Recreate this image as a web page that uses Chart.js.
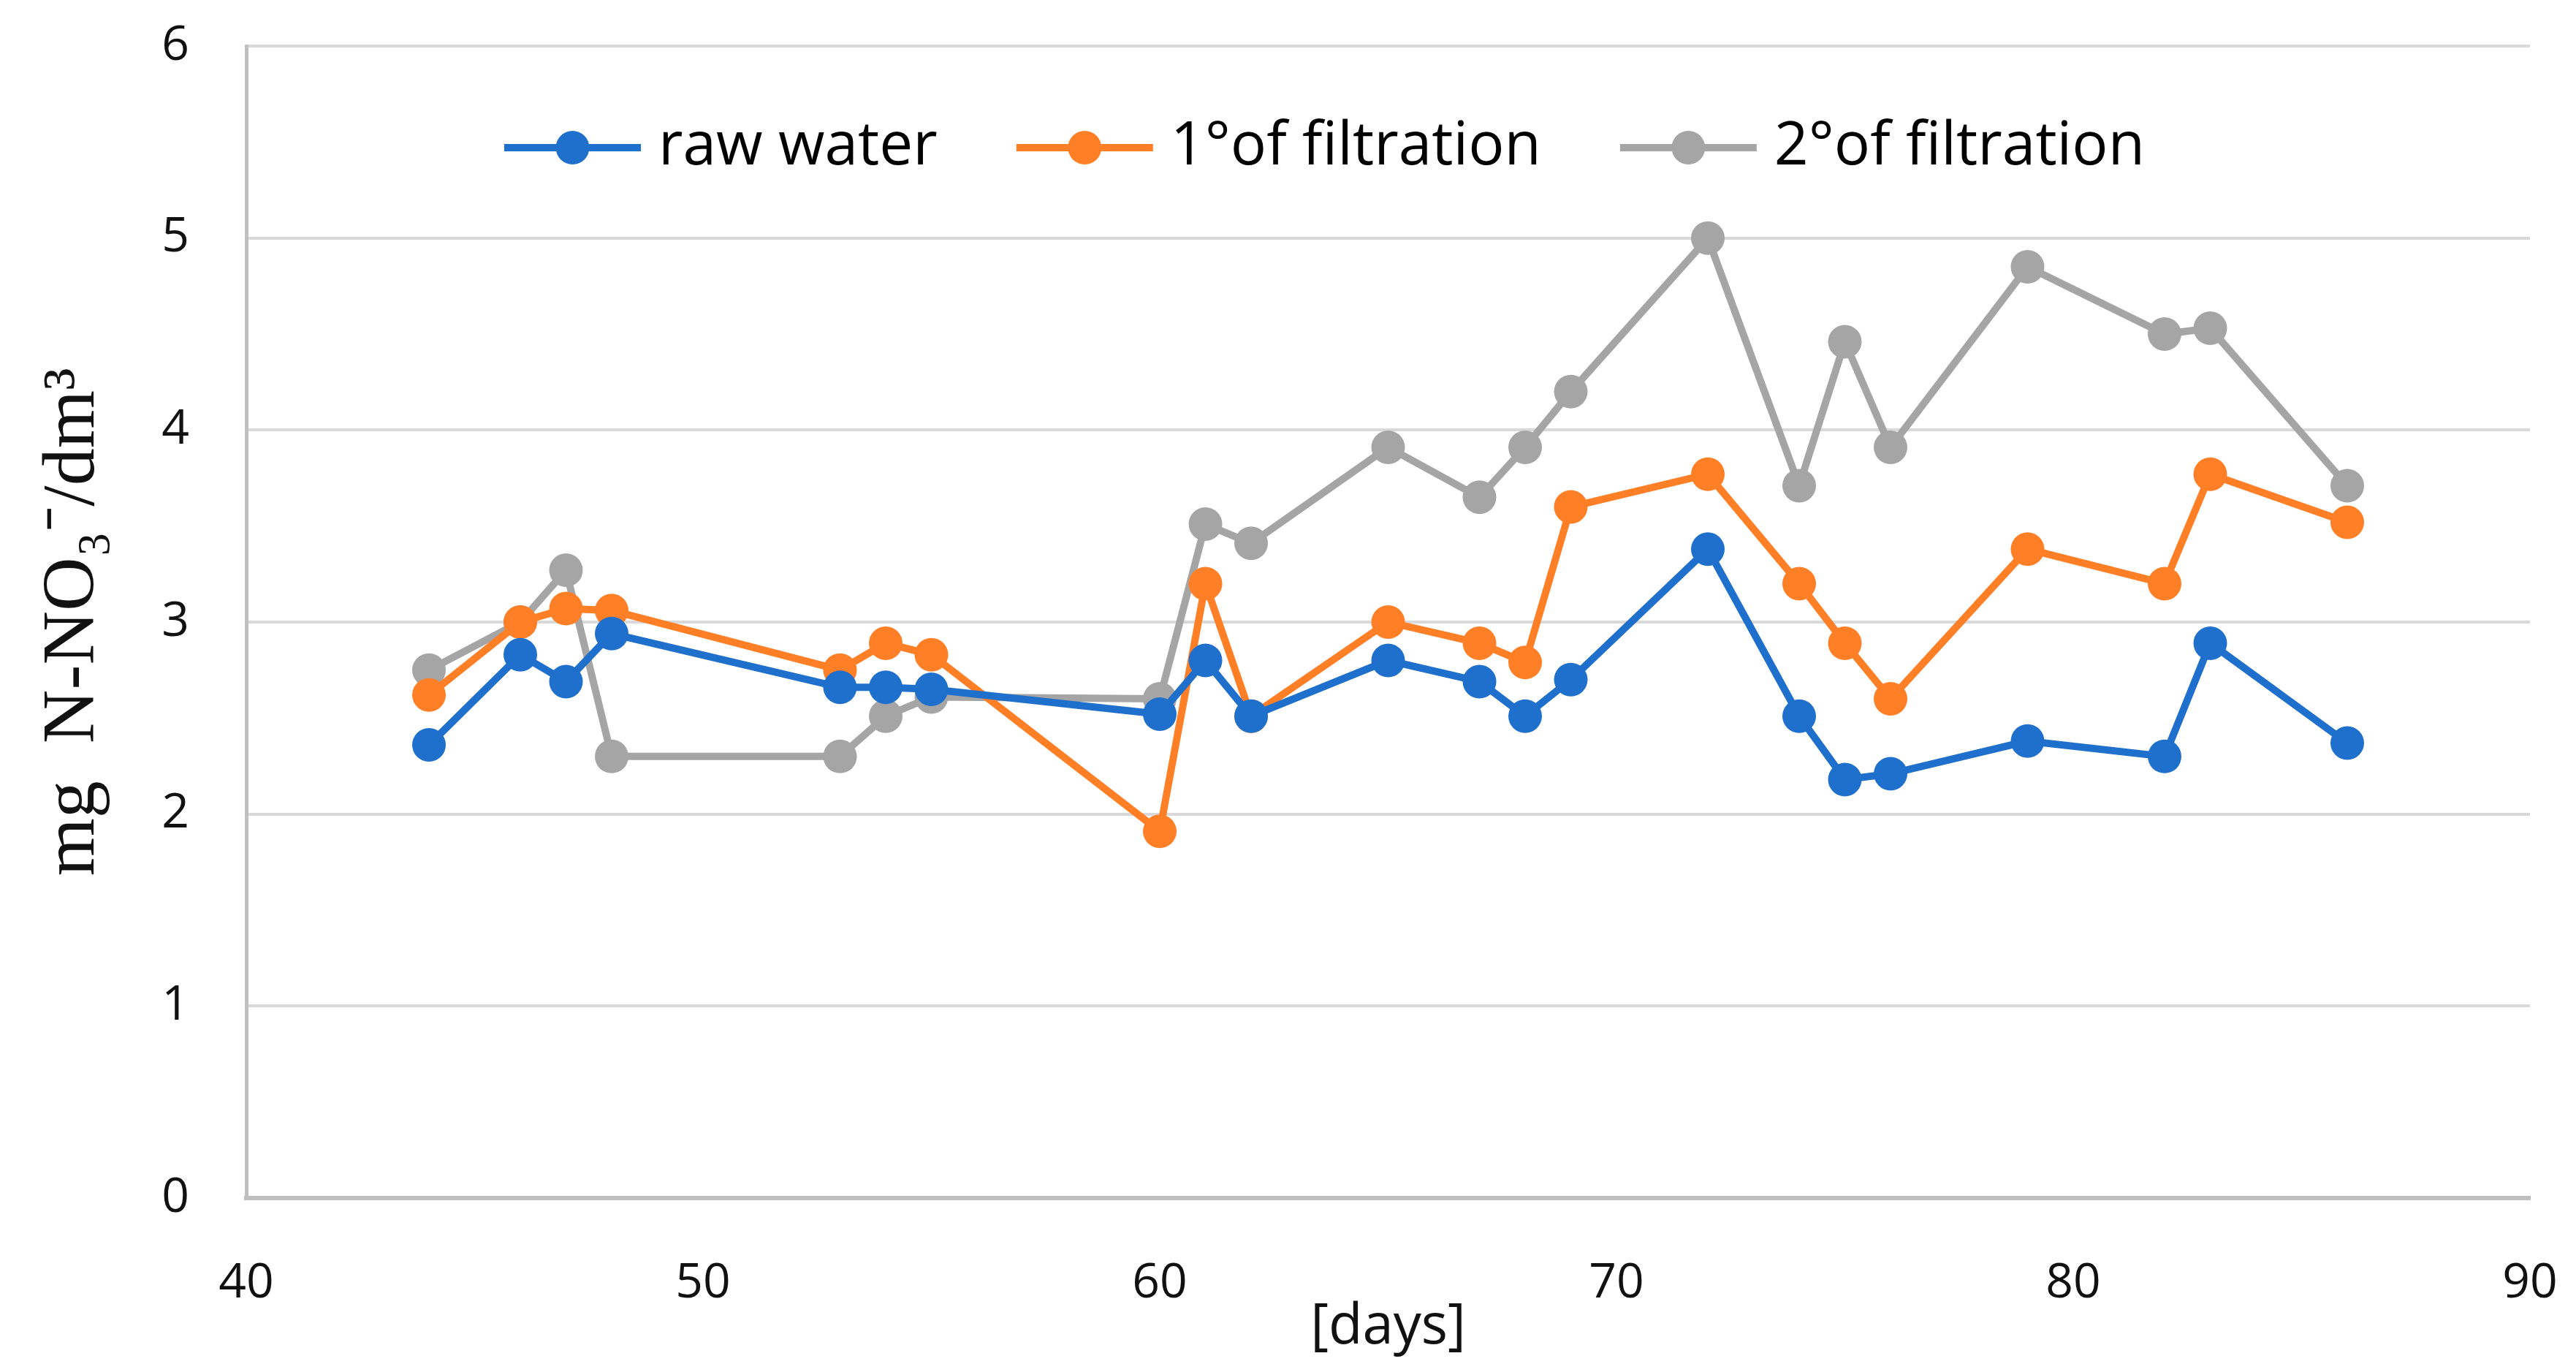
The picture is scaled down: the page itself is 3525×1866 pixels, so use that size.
<!DOCTYPE html>
<html>
<head>
<meta charset="utf-8">
<script src="https://cdn.jsdelivr.net/npm/chart.js@4.4.1/dist/chart.umd.min.js"></script>
<style>
  html, body { margin: 0; padding: 0; background: #fff; }
  #wrap { width: 3525px; height: 1866px; }
</style>
</head>
<body>
<div id="wrap"><canvas id="grafico" width="3525" height="1866"></canvas></div>
<script>
// dias de muestreo
const days = [44, 46, 47, 48, 53, 54, 55, 60, 61, 62, 65, 67, 68, 69, 72, 74, 75, 76, 79, 82, 83, 86];
// mg N-NO3/dm3
const rawWater = [2.36, 2.83, 2.69, 2.94, 2.66, 2.66, 2.65, 2.52, 2.80, 2.51, 2.80, 2.69, 2.51, 2.70, 3.38, 2.51, 2.18, 2.21, 2.38, 2.30, 2.89, 2.37];
const filtration1 = [2.62, 3.00, 3.07, 3.06, 2.75, 2.89, 2.83, 1.91, 3.20, 2.51, 3.00, 2.89, 2.79, 3.60, 3.77, 3.20, 2.89, 2.60, 3.38, 3.20, 3.77, 3.52];
const filtration2 = [2.75, 3.00, 3.27, 2.30, 2.30, 2.51, 2.61, 2.60, 3.51, 3.41, 3.91, 3.65, 3.91, 4.20, 5.00, 3.71, 4.46, 3.91, 4.85, 4.50, 4.53, 3.71];
const seriesNames = ['raw water', '1°of filtration', '2°of filtration'];
const xTicks = [40, 50, 60, 70, 80, 90];
const yTicks = [0, 1, 2, 3, 4, 5, 6];

const colores = ['#1f6fcc', '#ff7f27', '#a5a5a5'];
const fuente = 'Open Sans';

function serie(label, values, color) {
    return {
        label: label,
        data: days.map((d, i) => ({ x: d, y: values[i] })),
        borderColor: color,
        backgroundColor: color,
        borderWidth: 10,
        pointRadius: 23,
        pointHoverRadius: 23,
        pointBorderWidth: 0,
        pointStyle: 'circle',
        tension: 0
    };
}

// leyenda dentro del area del grafico, en una fila
const leyendaInterna = {
    id: 'leyendaInterna',
    afterDraw(chart) {
        const g = chart.ctx;
        const lineW = 187, gap = 24, sep = 108, y = 202;
        g.save();
        g.font = '82px "' + fuente + '"';
        g.textBaseline = 'middle';
        let x = 690;
        chart.data.datasets.forEach(ds => {
            g.strokeStyle = ds.borderColor;
            g.fillStyle = ds.borderColor;
            g.lineWidth = 10;
            g.beginPath(); g.moveTo(x, y); g.lineTo(x + lineW, y); g.stroke();
            g.beginPath(); g.arc(x + lineW / 2, y, 23, 0, Math.PI * 2); g.fill();
            g.fillStyle = '#000';
            g.fillText(ds.label, x + lineW + gap, y);
            x += lineW + gap + g.measureText(ds.label).width + sep;
        });
        g.restore();
    }
};

const ctx = document.getElementById('grafico').getContext('2d');
new Chart(ctx, {
    type: 'line',
    data: {
        datasets: [
            serie(seriesNames[0], rawWater, colores[0]),
            serie(seriesNames[1], filtration1, colores[1]),
            serie(seriesNames[2], filtration2, colores[2])
        ]
    },
    plugins: [leyendaInterna],
    options: {
        responsive: false,
        animation: false,
        devicePixelRatio: 1,
        layout: { padding: 0 },
        plugins: {
            tooltip: { enabled: false },
            legend: { display: false }
        },
        scales: {
            x: {
                type: 'linear',
                min: xTicks[0],
                max: xTicks[xTicks.length - 1],
                afterBuildTicks: s => { s.ticks = xTicks.map(v => ({ value: v })); },
                afterFit: s => { s.height = 227; s.paddingLeft = 0; s.paddingRight = 63; },
                grid: { display: false },
                border: { display: true, color: '#bfbfbf', width: 6 },
                ticks: { color: '#111', padding: 70, font: { family: fuente, size: 66 } },
                title: {
                    display: true,
                    text: '[days]',
                    color: '#111',
                    padding: { top: -30 },
                    font: { family: fuente, size: 76 }
                }
            },
            y: {
                min: yTicks[0],
                max: yTicks[yTicks.length - 1],
                afterBuildTicks: s => { s.ticks = yTicks.map(v => ({ value: v })); },
                afterFit: s => { s.width = 337; s.paddingTop = 63; s.paddingBottom = 0; },
                grid: { color: '#d9d9d9', lineWidth: 4, drawTicks: false },
                border: { display: true, color: '#bfbfbf', width: 5 },
                ticks: { color: '#111', padding: 78, font: { family: fuente, size: 66 } },
                title: {
                    display: true,
                    text: 'mg  N-NO₃⁻/dm³',
                    color: '#111',
                    padding: { top: 40, bottom: 0 },
                    font: { family: 'Liberation Serif', size: 102 }
                }
            }
        }
    }
});
</script>
</body>
</html>
